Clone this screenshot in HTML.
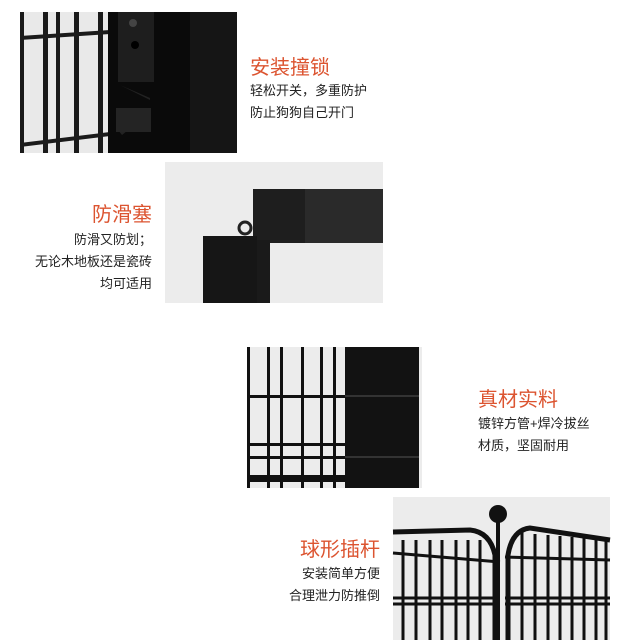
<!DOCTYPE html>
<html><head><meta charset="utf-8"><style>
body{margin:0;background:#fff;width:640px;height:640px;overflow:hidden;position:relative;font-family:"Liberation Sans","Noto Sans CJK SC",sans-serif}
.t{position:absolute;color:#dc5430;font-size:20px;line-height:24px;white-space:nowrap}
.s{position:absolute;color:#222;font-size:13px;line-height:22px;white-space:nowrap}
.r{text-align:right}
svg{position:absolute;left:0;top:0}
</style></head><body>
<svg width="640" height="640">
<rect x="20" y="12" width="217" height="141" fill="#e9e9e9"/>
<g fill="#1a1a1a">
<rect x="20" y="12" width="4" height="141"/><rect x="43" y="12" width="5" height="141"/><rect x="56" y="12" width="4" height="141"/><rect x="74" y="12" width="5" height="141"/><rect x="98" y="12" width="5" height="141"/>
<polygon points="20,36 110,30 110,34 20,40"/><polygon points="20,143 110,132 110,136 20,147"/>
</g>
<rect x="108" y="12" width="129" height="141" fill="#0a0a0a"/>
<rect x="118" y="12" width="36" height="70" fill="#1e1e1e"/>
<circle cx="133" cy="23" r="4" fill="#444"/><circle cx="135" cy="45" r="4" fill="#000"/>
<polygon points="120,85 150,98 150,108 118,112 118,130 122,135 150,112 150,100" fill="#222"/>
<rect x="116" y="108" width="35" height="24" fill="#242424"/>
<rect x="190" y="12" width="47" height="141" fill="#151515"/>
<rect x="165" y="162" width="218" height="141" fill="#ececec"/>
<rect x="253" y="189" width="130" height="54" fill="#1e1e1e"/><rect x="305" y="189" width="78" height="54" fill="#2a2a2a"/>
<circle cx="245" cy="228" r="6" fill="none" stroke="#222" stroke-width="3"/>
<rect x="256" y="240" width="14" height="63" fill="#1a1a1a"/>
<rect x="203" y="236" width="54" height="67" fill="#161616"/>
<rect x="247" y="347" width="175" height="141" fill="#ececec"/>
<g fill="#111">
<rect x="247" y="347" width="3" height="141"/><rect x="267" y="347" width="3" height="141"/><rect x="280" y="347" width="3" height="141"/><rect x="301" y="347" width="3" height="141"/><rect x="320" y="347" width="3" height="141"/><rect x="333" y="347" width="3" height="141"/>
<rect x="247" y="395" width="100" height="3"/><rect x="247" y="443" width="100" height="3"/><rect x="247" y="456" width="100" height="3"/><rect x="247" y="475" width="100" height="7"/>
</g>
<rect x="345" y="347" width="74" height="141" fill="#121212"/>
<rect x="345" y="395" width="74" height="2" fill="#333"/><rect x="345" y="456" width="74" height="2" fill="#333"/>
<rect x="393" y="497" width="217" height="143" fill="#ececec"/>
<g fill="none" stroke="#111">
<path d="M393,532 L470,530 Q490,532 495,555 L495,640" stroke-width="5"/>
<path d="M508,640 L508,555 Q512,530 530,528 L610,540" stroke-width="5"/>
<path d="M393,553 L500,562 M393,598 L500,598 M393,604 L500,604" stroke-width="3"/>
<path d="M505,557 L610,560 M505,598 L610,598 M505,604 L610,604" stroke-width="3"/>
<path d="M403,540V640M416,540V640M430,540V640M442,540V640M456,540V640M468,540V640M480,540V640" stroke-width="3"/>
<path d="M522,532V640M535,534V640M548,535V640M560,536V640M572,537V640M584,538V640M596,539V640M606,540V640" stroke-width="3"/>
<path d="M498,515V640" stroke-width="4"/>
</g>
<circle cx="498" cy="514" r="9" fill="#111"/>
</svg>
<div class="t" style="left:250px;top:56px">安装撞锁</div>
<div class="s" style="left:250px;top:80px">轻松开关，多重防护<br>防止狗狗自己开门</div>
<div class="t r" style="right:488px;top:203px">防滑塞</div>
<div class="s r" style="right:488px;top:229px">防滑又防划；<br>无论木地板还是瓷砖<br>均可适用</div>
<div class="t" style="left:478px;top:388px">真材实料</div>
<div class="s" style="left:478px;top:413px">镀锌方管+焊冷拔丝<br>材质，坚固耐用</div>
<div class="t r" style="right:260px;top:538px">球形插杆</div>
<div class="s r" style="right:260px;top:563px">安装简单方便<br>合理泄力防推倒</div>
</body></html>
